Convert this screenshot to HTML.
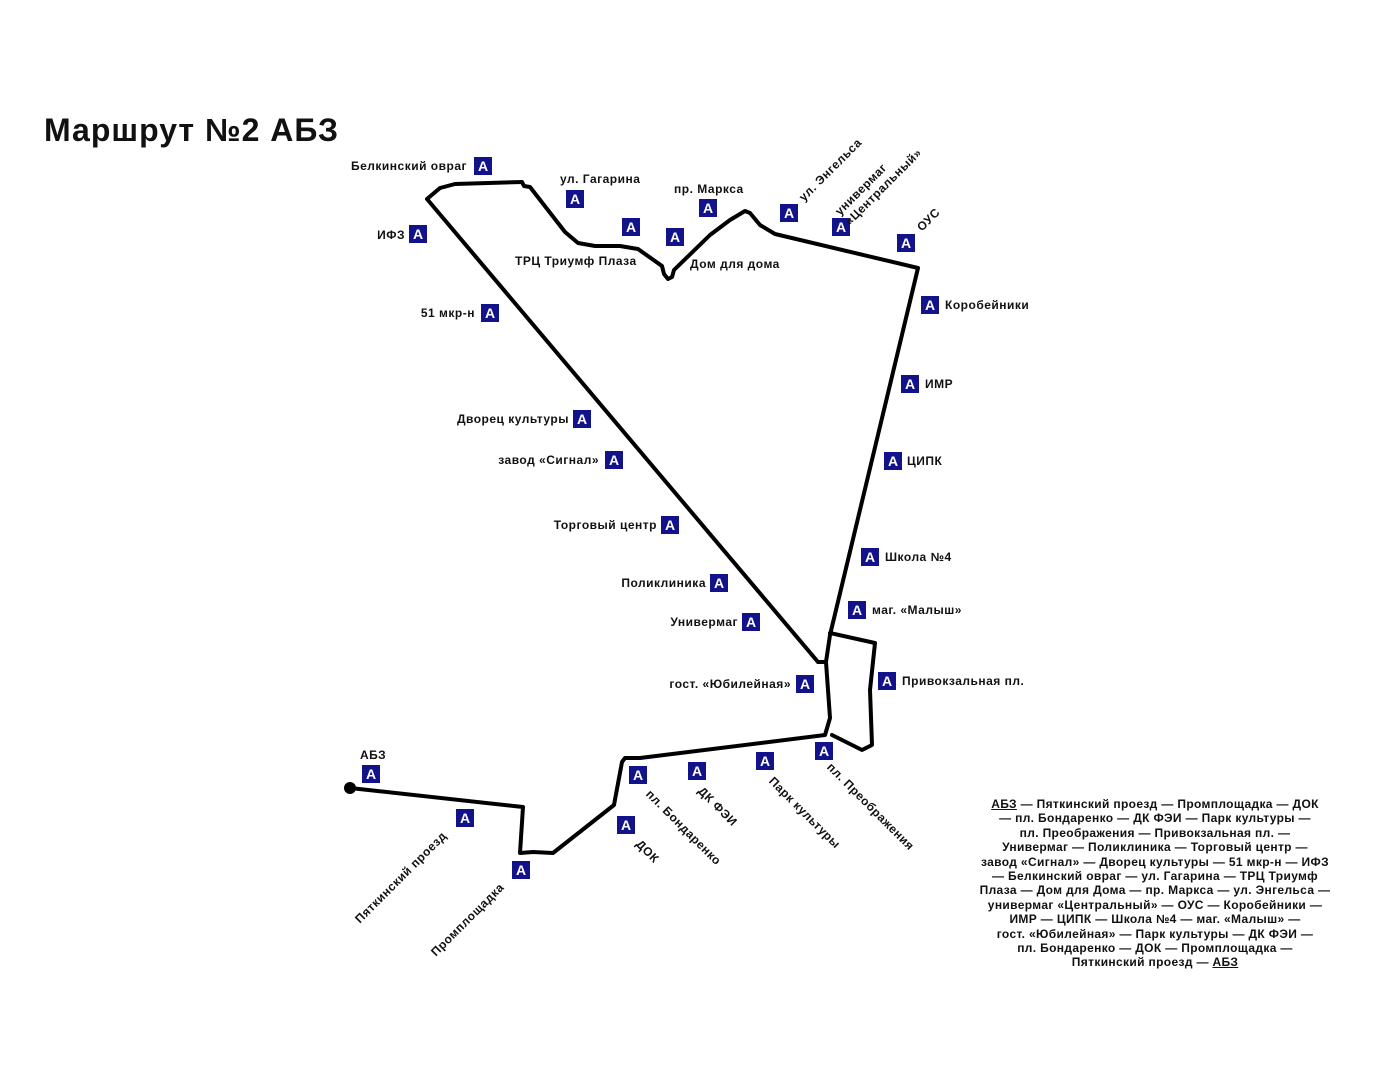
<!DOCTYPE html>
<html><head><meta charset="utf-8"><style>
body{margin:0;width:1379px;height:1080px;background:#fff;position:relative;overflow:hidden;font-family:"Liberation Sans",sans-serif;}
.t{position:absolute;font-size:12px;font-weight:bold;color:#111;white-space:nowrap;line-height:14px;letter-spacing:0.5px;}
.b{position:absolute;width:18px;height:18px;background:#12128a;color:#fff;font-weight:bold;font-size:14px;line-height:18px;text-align:center;font-family:"Liberation Sans",sans-serif;}
.r{transform-origin:0 100%;}
.leg{position:absolute;left:950px;top:797px;width:410px;text-align:center;font-size:12px;font-weight:bold;line-height:14.4px;color:#111;letter-spacing:0.35px;}
</style></head><body>
<div class="t" style="left:44px;top:112px;font-size:32px;line-height:36px;letter-spacing:1px;">Маршрут №2 АБЗ</div>
<svg style="position:absolute;left:0;top:0" width="1379" height="1080">
<g fill="none" stroke="#000" stroke-width="4" stroke-linejoin="round" stroke-linecap="round">
<polyline points="818,662 427,199 440,188 455,184 522,182 524,186 530,187 565,232 578,243 595,246 620,246 638,249 662,266 664,274 668,279 672,277 674,270 710,235 730,220 745,211 750,213 760,225 775,234 918,268 830,635 826,662 818,662"/>
<polyline points="826,662 830,718 825,735 640,758 625,758 622,762 614,805 553,853 533,852 520,853 523,807 350,788"/>
<polyline points="830,633 875,643 870,690 872,745 862,750 832,735"/>
</g>
<circle cx="350" cy="788" r="6" fill="#000"/>
</svg>
<div class="b" style="left:474px;top:157px">A</div>
<div class="b" style="left:566px;top:190px">A</div>
<div class="b" style="left:622px;top:218px">A</div>
<div class="b" style="left:666px;top:228px">A</div>
<div class="b" style="left:699px;top:199px">A</div>
<div class="b" style="left:780px;top:204px">A</div>
<div class="b" style="left:832px;top:218px">A</div>
<div class="b" style="left:897px;top:234px">A</div>
<div class="b" style="left:921px;top:296px">A</div>
<div class="b" style="left:901px;top:375px">A</div>
<div class="b" style="left:884px;top:452px">A</div>
<div class="b" style="left:861px;top:548px">A</div>
<div class="b" style="left:848px;top:601px">A</div>
<div class="b" style="left:878px;top:672px">A</div>
<div class="b" style="left:409px;top:225px">A</div>
<div class="b" style="left:481px;top:304px">A</div>
<div class="b" style="left:573px;top:410px">A</div>
<div class="b" style="left:605px;top:451px">A</div>
<div class="b" style="left:661px;top:516px">A</div>
<div class="b" style="left:710px;top:574px">A</div>
<div class="b" style="left:742px;top:613px">A</div>
<div class="b" style="left:796px;top:675px">A</div>
<div class="b" style="left:815px;top:742px">A</div>
<div class="b" style="left:756px;top:752px">A</div>
<div class="b" style="left:688px;top:762px">A</div>
<div class="b" style="left:629px;top:766px">A</div>
<div class="b" style="left:617px;top:816px">A</div>
<div class="b" style="left:362px;top:765px">A</div>
<div class="b" style="left:456px;top:809px">A</div>
<div class="b" style="left:512px;top:861px">A</div>

<div class="t" style="right:912px;top:159px">Белкинский овраг</div>
<div class="t" style="left:560px;top:172px">ул. Гагарина</div>
<div class="t" style="left:674px;top:182px">пр. Маркса</div>
<div class="t" style="left:515px;top:254px">ТРЦ Триумф Плаза</div>
<div class="t" style="left:690px;top:257px">Дом для дома</div>
<div class="t" style="left:945px;top:298px">Коробейники</div>
<div class="t" style="left:925px;top:377px">ИМР</div>
<div class="t" style="left:907px;top:454px">ЦИПК</div>
<div class="t" style="left:885px;top:550px">Школа №4</div>
<div class="t" style="left:872px;top:603px">маг. «Малыш»</div>
<div class="t" style="left:902px;top:674px">Привокзальная пл.</div>
<div class="t" style="right:974px;top:228px">ИФЗ</div>
<div class="t" style="right:904px;top:306px">51 мкр-н</div>
<div class="t" style="right:810px;top:412px">Дворец культуры</div>
<div class="t" style="right:780px;top:453px">завод «Сигнал»</div>
<div class="t" style="right:722px;top:518px">Торговый центр</div>
<div class="t" style="right:673px;top:576px">Поликлиника</div>
<div class="t" style="right:641px;top:615px">Универмаг</div>
<div class="t" style="right:588px;top:677px">гост. «Юбилейная»</div>
<div class="t" style="left:360px;top:748px">АБЗ</div>

<div class="t r" style="left:806px;top:190px;transform:rotate(-45deg)">ул. Энгельса</div>
<div class="t r" style="left:852px;top:200px;transform:rotate(-45deg)">универмаг<br>«Центральный»</div>
<div class="t r" style="left:924px;top:220px;transform:rotate(-45deg)">ОУС</div>
<div class="t" style="left:834px;top:760px;transform-origin:0 0;transform:rotate(45deg)">пл. Преображения</div>
<div class="t" style="left:776px;top:774px;transform-origin:0 0;transform:rotate(45deg)">Парк культуры</div>
<div class="t" style="left:705px;top:784px;transform-origin:0 0;transform:rotate(45deg)">ДК ФЭИ</div>
<div class="t" style="left:653px;top:787px;transform-origin:0 0;transform:rotate(45deg)">пл. Бондаренко</div>
<div class="t" style="left:643px;top:837px;transform-origin:0 0;transform:rotate(45deg)">ДОК</div>
<div class="t r" style="left:362px;top:912px;transform:rotate(-45deg)">Пяткинский проезд</div>
<div class="t r" style="left:438px;top:945px;transform:rotate(-45deg)">Промплощадка</div>

<div class="leg"><u>АБЗ</u> — Пяткинский проезд — Промплощадка — ДОК<br>— пл. Бондаренко — ДК ФЭИ — Парк культуры —<br>пл. Преображения — Привокзальная пл. —<br>Универмаг — Поликлиника — Торговый центр —<br>завод «Сигнал» — Дворец культуры — 51 мкр-н — ИФЗ<br>— Белкинский овраг — ул. Гагарина — ТРЦ Триумф<br>Плаза — Дом для Дома — пр. Маркса — ул. Энгельса —<br>универмаг «Центральный» — ОУС — Коробейники —<br>ИМР — ЦИПК — Школа №4 — маг. «Малыш» —<br>гост. «Юбилейная» — Парк культуры — ДК ФЭИ —<br>пл. Бондаренко — ДОК — Промплощадка —<br>Пяткинский проезд — <u>АБЗ</u></div>
</body></html>
